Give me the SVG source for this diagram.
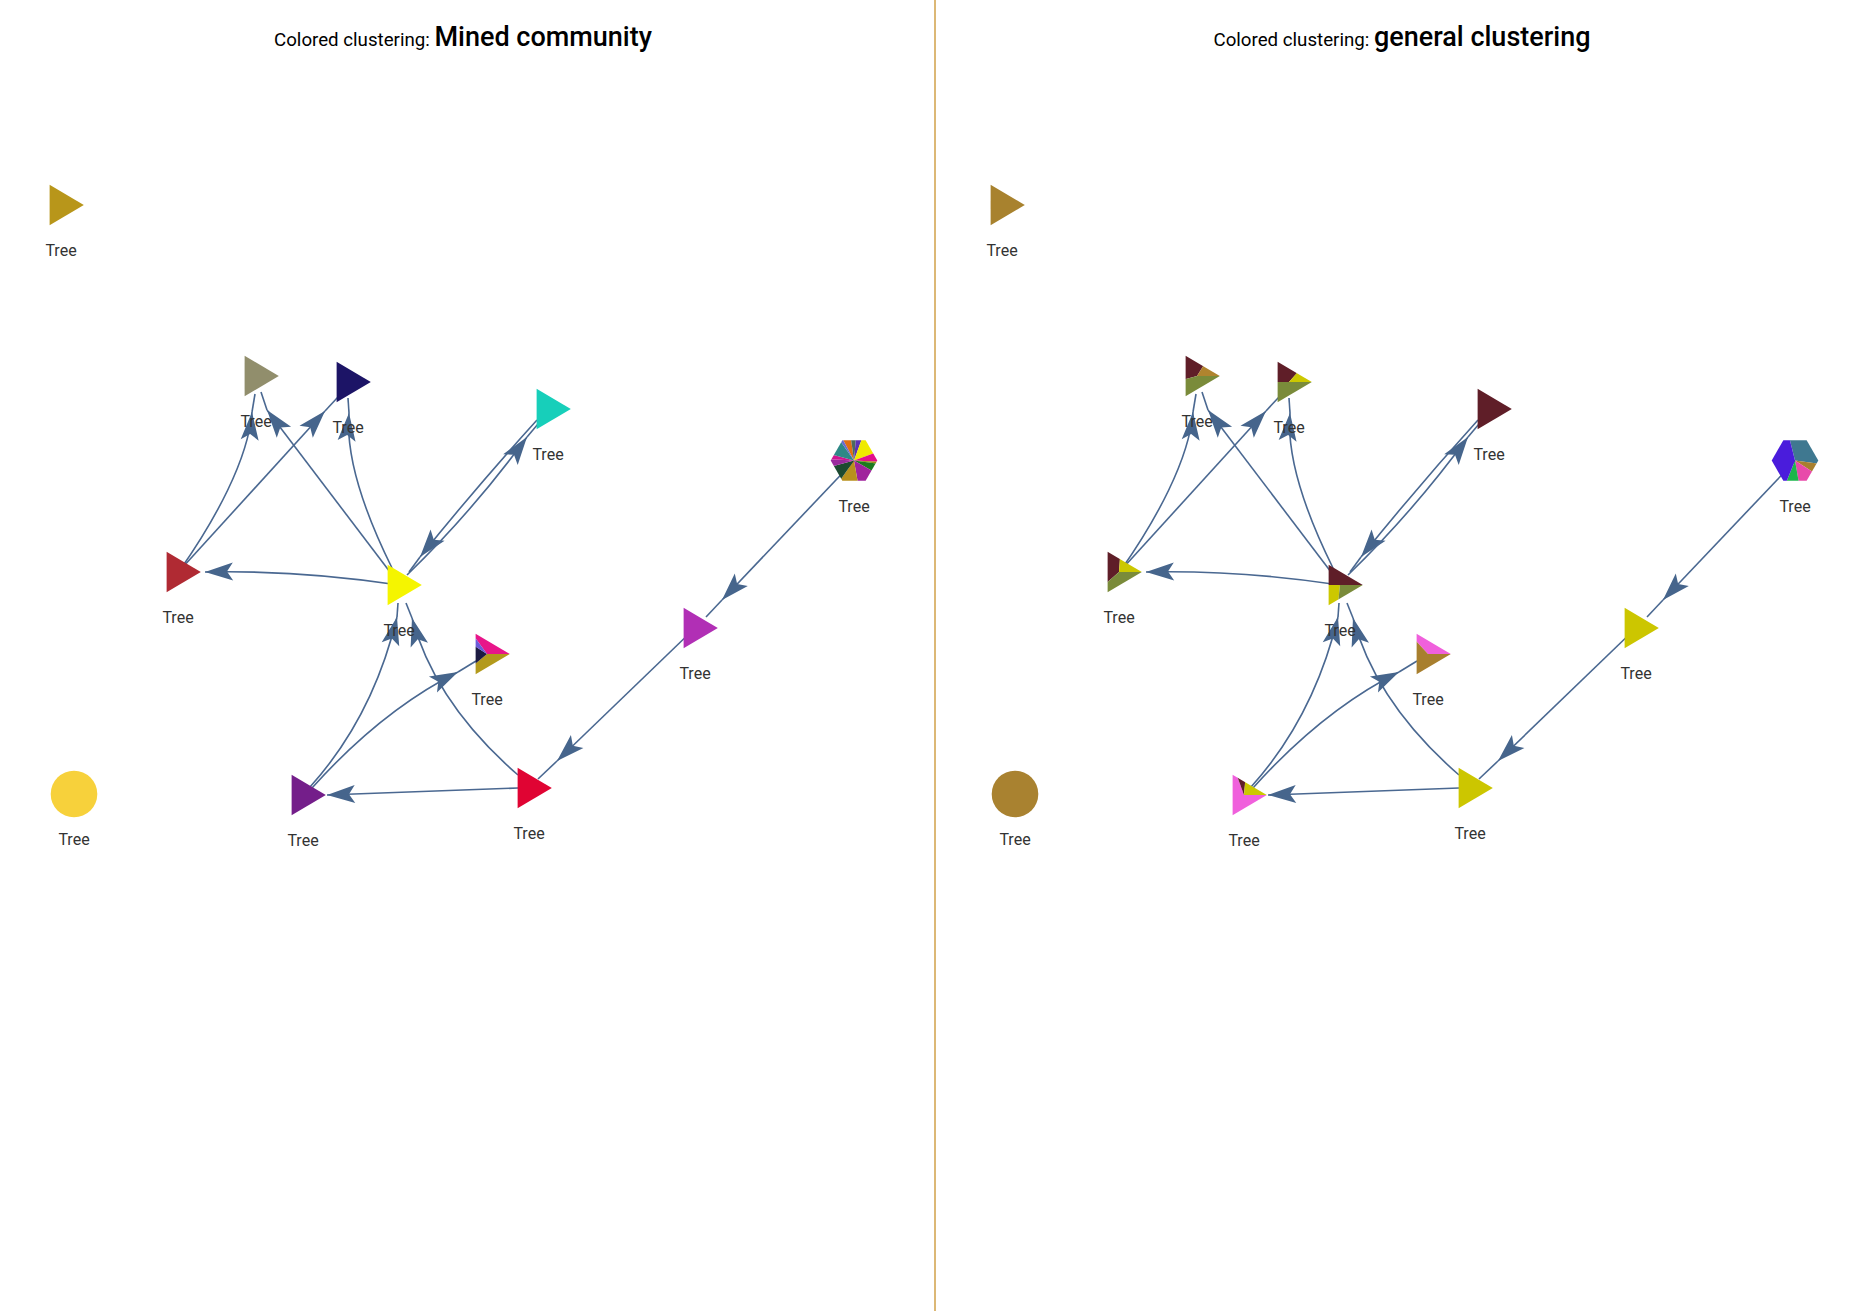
<svg xmlns="http://www.w3.org/2000/svg" width="1874" height="1311" viewBox="0 0 1874 1311">
<defs>
<style>
.edge{fill:none;stroke:#4a6891;stroke-width:1.6}
.arr{marker-end:url(#arr)}
.lbl{font-family:Roboto,"Liberation Sans",sans-serif;font-size:16px;fill:#333;text-anchor:middle}
.ttl{font-family:Roboto,"Liberation Sans",sans-serif;fill:#000;text-anchor:middle}
.sm{font-size:18.7px}
.big{font-size:27px;font-weight:500}
</style>
<marker id="arr" markerUnits="userSpaceOnUse" markerWidth="30" markerHeight="20" viewBox="-29 -10 30 20" refX="0" refY="0" orient="auto">
<path d="M0,0 L-28,-9 L-22,0 L-28,9 Z" fill="#46658c"/>
</marker>
<clipPath id="tri"><polygon points="-11.4,-20.3 -11.4,20.3 22.8,0"/></clipPath>
<clipPath id="hex"><polygon points="23.3,0 11.65,20.2 -11.65,20.2 -23.3,0 -11.65,-20.2 11.65,-20.2"/></clipPath>
<polygon id="triS" points="-11.4,-20.3 -11.4,20.3 22.8,0"/>
</defs>
<rect width="1874" height="1311" fill="#fff"/>
<line x1="935" y1="0" x2="935" y2="1311" stroke="#dcb876" stroke-width="2"/>
<text class="ttl" x="463" y="46"><tspan class="sm">Colored clustering: </tspan><tspan class="big">Mined community</tspan></text>
<text class="ttl" x="1402" y="46"><tspan class="sm">Colored clustering: </tspan><tspan class="big">general clustering</tspan></text>

<g id="connectors-left">
<path class="edge arr" d="M399,585 Q300,570 205,572"/>
<path class="edge arr" d="M180,570 C215,520 248,460 252,412"/><path class="edge" d="M252,412 L255,394"/>
<path class="edge arr" d="M182,568 L325,411"/><path class="edge" d="M325,411 L338,397"/>
<path class="edge arr" d="M390,572 L267,410"/><path class="edge" d="M267,410 L261,392"/>
<path class="edge arr" d="M392,568 Q344,471 349,413"/><path class="edge" d="M349,413 L348,398"/>
<path class="edge arr" d="M537,420 Q478,485 420,557"/><path class="edge" d="M420,557 L409,572"/>
<path class="edge arr" d="M407,575 Q472,512 527,437"/><path class="edge" d="M527,437 L538,424"/>
<path class="edge arr" d="M310,787 Q373,717 397,617"/><path class="edge" d="M397,617 L398,603"/>
<path class="edge arr" d="M518,775 Q435,703 412,618"/><path class="edge" d="M412,618 L406,603"/>
<path class="edge arr" d="M312,788 Q382,710 458,672"/><path class="edge" d="M458,672 L476,661"/>
<path class="edge arr" d="M518,788 Q420,792 327,795"/>
<path class="edge arr" d="M695,628 L557,761"/><path class="edge" d="M557,761 L538,779"/>
<path class="edge arr" d="M854,461 L722,600"/><path class="edge" d="M722,600 L706,617"/>
</g>

<g id="connectors-right" transform="translate(941,0)">
<path class="edge arr" d="M399,585 Q300,570 205,572"/>
<path class="edge arr" d="M180,570 C215,520 248,460 252,412"/><path class="edge" d="M252,412 L255,394"/>
<path class="edge arr" d="M182,568 L325,411"/><path class="edge" d="M325,411 L338,397"/>
<path class="edge arr" d="M390,572 L267,410"/><path class="edge" d="M267,410 L261,392"/>
<path class="edge arr" d="M392,568 Q344,471 349,413"/><path class="edge" d="M349,413 L348,398"/>
<path class="edge arr" d="M537,420 Q478,485 420,557"/><path class="edge" d="M420,557 L409,572"/>
<path class="edge arr" d="M407,575 Q472,512 527,437"/><path class="edge" d="M527,437 L538,424"/>
<path class="edge arr" d="M310,787 Q373,717 397,617"/><path class="edge" d="M397,617 L398,603"/>
<path class="edge arr" d="M518,775 Q435,703 412,618"/><path class="edge" d="M412,618 L406,603"/>
<path class="edge arr" d="M312,788 Q382,710 458,672"/><path class="edge" d="M458,672 L476,661"/>
<path class="edge arr" d="M518,788 Q420,792 327,795"/>
<path class="edge arr" d="M695,628 L557,761"/><path class="edge" d="M557,761 L538,779"/>
<path class="edge arr" d="M854,461 L722,600"/><path class="edge" d="M722,600 L706,617"/>
</g>

<!-- Left panel nodes -->
<g id="l-n1" transform="translate(61,205)"><use href="#triS" fill="#b8961a"/><text class="lbl" y="51">Tree</text></g>
<g id="l-n2" transform="translate(256,376)"><use href="#triS" fill="#918e6c"/><text class="lbl" y="51">Tree</text></g>
<g id="l-n3" transform="translate(348,382)"><use href="#triS" fill="#1c1466"/><text class="lbl" y="51">Tree</text></g>
<g id="l-n4" transform="translate(548,409)"><use href="#triS" fill="#17cfba"/><text class="lbl" y="51">Tree</text></g>
<g id="l-n5" transform="translate(178,572)"><use href="#triS" fill="#b02a33"/><text class="lbl" y="51">Tree</text></g>
<g id="l-n6" transform="translate(399,585)"><use href="#triS" fill="#f5f500"/><text class="lbl" y="51">Tree</text></g>
<g id="l-n7" transform="translate(487,654)"><g clip-path="url(#tri)">
<path d="M0,0 L-23.51,-32.36 A40,40 0 0,1 40,0 Z" fill="#e8168a"/>
<path d="M0,0 L40,0 A40,40 0 0,1 -30.86,25.44 Z" fill="#b39a1c"/>
<path d="M0,0 L-30.86,25.44 A40,40 0 0,1 -33.55,-21.78 Z" fill="#1d1b42"/>
<path d="M0,0 L-33.55,-21.78 A40,40 0 0,1 -23.51,-32.36 Z" fill="#6b5ad8"/>
</g><text class="lbl" y="51">Tree</text></g>
<g id="l-n8" transform="translate(303,795)"><use href="#triS" fill="#741e8a"/><text class="lbl" y="51">Tree</text></g>
<g id="l-n9" transform="translate(529,788)"><use href="#triS" fill="#e00433"/><text class="lbl" y="51">Tree</text></g>
<g id="l-n10" transform="translate(695,628)"><use href="#triS" fill="#b12fb5"/><text class="lbl" y="51">Tree</text></g>
<g id="l-n11" transform="translate(854,460.5)"><g clip-path="url(#hex)">
<path d="M0,0 L-18.78,-35.32 A40,40 0 0,1 -5.57,-39.61 Z" fill="#e06e12"/>
<path d="M0,0 L-5.57,-39.61 A40,40 0 0,1 3.49,-39.85 Z" fill="#4e6a5c"/>
<path d="M0,0 L3.49,-39.85 A40,40 0 0,1 13.68,-37.59 Z" fill="#5f31b2"/>
<path d="M0,0 L13.68,-37.59 A40,40 0 0,1 37.59,-13.68 Z" fill="#efea00"/>
<path d="M0,0 L37.59,-13.68 A40,40 0 0,1 39.95,2.09 Z" fill="#e2108c"/>
<path d="M0,0 L39.95,2.09 A40,40 0 0,1 39.61,5.57 Z" fill="#9a8a12"/>
<path d="M0,0 L39.61,5.57 A40,40 0 0,1 34.64,20 Z" fill="#1c7a1e"/>
<path d="M0,0 L34.64,20 A40,40 0 0,1 6.95,39.39 Z" fill="#a0229c"/>
<path d="M0,0 L6.95,39.39 A40,40 0 0,1 -22.94,32.77 Z" fill="#b8901c"/>
<path d="M0,0 L-22.94,32.77 A40,40 0 0,1 -38.64,10.35 Z" fill="#1c4a30"/>
<path d="M0,0 L-38.64,10.35 A40,40 0 0,1 -39.95,-2.09 Z" fill="#9a2a9e"/>
<path d="M0,0 L-39.95,-2.09 A40,40 0 0,1 -38.64,-10.35 Z" fill="#cf1490"/>
<path d="M0,0 L-38.64,-10.35 A40,40 0 0,1 -22.94,-32.77 Z" fill="#2e8886"/>
<path d="M0,0 L-22.94,-32.77 A40,40 0 0,1 -18.78,-35.32 Z" fill="#6a6acc"/>
</g><text class="lbl" y="51">Tree</text></g>
<g id="l-n12" transform="translate(74,794)"><circle r="23.3" fill="#f7d13b"/><text class="lbl" y="51">Tree</text></g>

<!-- Right panel nodes -->
<g id="r-n1" transform="translate(1002,205)"><use href="#triS" fill="#a8822e"/><text class="lbl" y="51">Tree</text></g>
<g id="r-n2" transform="translate(1197,376)"><g clip-path="url(#tri)">
<path d="M0,0 L-38.54,10.69 A40,40 0 0,1 21.2,-33.92 Z" fill="#5f1e28"/>
<path d="M0,0 L21.2,-33.92 A40,40 0 0,1 40,0 Z" fill="#b0842e"/>
<path d="M0,0 L40,0 A40,40 0 0,1 -38.54,10.69 Z" fill="#7a8b3a"/>
</g><text class="lbl" y="51">Tree</text></g>
<g id="r-n3" transform="translate(1289,382)"><g clip-path="url(#tri)">
<path d="M0,0 L-40,0 A40,40 0 0,1 26.5,-29.96 Z" fill="#5f1e28"/>
<path d="M0,0 L26.5,-29.96 A40,40 0 0,1 40,0 Z" fill="#ccc800"/>
<path d="M-40,0 L40,0 L40,40 L-40,40 Z" fill="#7a8b3a"/>
</g><text class="lbl" y="51">Tree</text></g>
<g id="r-n4" transform="translate(1489,409)"><use href="#triS" fill="#5f1e28"/><text class="lbl" y="51">Tree</text></g>
<g id="r-n5" transform="translate(1119,572)"><g clip-path="url(#tri)">
<path d="M0,0 L-30.19,26.24 A40,40 0 0,1 2.79,-39.9 Z" fill="#5f1e28"/>
<path d="M0,0 L2.79,-39.9 A40,40 0 0,1 40,0 Z" fill="#ccc800"/>
<path d="M0,0 L40,0 A40,40 0 0,1 -30.19,26.24 Z" fill="#7a8b3a"/>
</g><text class="lbl" y="51">Tree</text></g>
<g id="r-n6" transform="translate(1340,585)"><g clip-path="url(#tri)">
<path d="M-40,0 L-40,-40 L40,-40 L40,0 Z" fill="#5f1e28"/>
<path d="M0,0 L-4.18,39.78 A40,40 0 0,1 -40,0 Z" fill="#ccc800"/>
<path d="M0,0 L40,0 A40,40 0 0,1 -4.18,39.78 Z" fill="#7a8b3a"/>
</g><text class="lbl" y="51">Tree</text></g>
<g id="r-n7" transform="translate(1428,654)"><g clip-path="url(#tri)">
<path d="M0,0 L-27.08,-29.44 A40,40 0 0,1 40,0 Z" fill="#f060dc"/>
<path d="M0,0 L40,0 A40,40 0 1,1 -27.08,-29.44 Z" fill="#a87f2e"/>
</g><text class="lbl" y="51">Tree</text></g>
<g id="r-n8" transform="translate(1244,795)"><g clip-path="url(#tri)">
<path d="M0,0 L40,0 A40,40 0 1,1 -13.68,-37.59 Z" fill="#f060dc"/>
<path d="M0,0 L-13.68,-37.59 A40,40 0 0,1 3.49,-39.85 Z" fill="#5f1e28"/>
<path d="M0,0 L3.49,-39.85 A40,40 0 0,1 40,0 Z" fill="#ccc800"/>
</g><text class="lbl" y="51">Tree</text></g>
<g id="r-n9" transform="translate(1470,788)"><use href="#triS" fill="#ccc600"/><text class="lbl" y="51">Tree</text></g>
<g id="r-n10" transform="translate(1636,628)"><use href="#triS" fill="#ccc600"/><text class="lbl" y="51">Tree</text></g>
<g id="r-n11" transform="translate(1795,460.5)"><g clip-path="url(#hex)">
<path d="M0,0 L-9.68,-38.81 A40,40 0 0,1 39.61,5.57 Z" fill="#3f7890"/>
<path d="M0,0 L39.61,5.57 A40,40 0 0,1 33.55,21.78 Z" fill="#a87f2e"/>
<path d="M0,0 L33.55,21.78 A40,40 0 0,1 6.95,39.39 Z" fill="#e84aaa"/>
<path d="M0,0 L6.95,39.39 A40,40 0 0,1 -14.98,37.09 Z" fill="#1db64b"/>
<path d="M0,0 L-14.98,37.09 A40,40 0 0,1 -9.68,-38.81 Z" fill="#4a1cdc"/>
</g><text class="lbl" y="51">Tree</text></g>
<g id="r-n12" transform="translate(1015,794)"><circle r="23.3" fill="#a98230"/><text class="lbl" y="51">Tree</text></g>
</svg>
